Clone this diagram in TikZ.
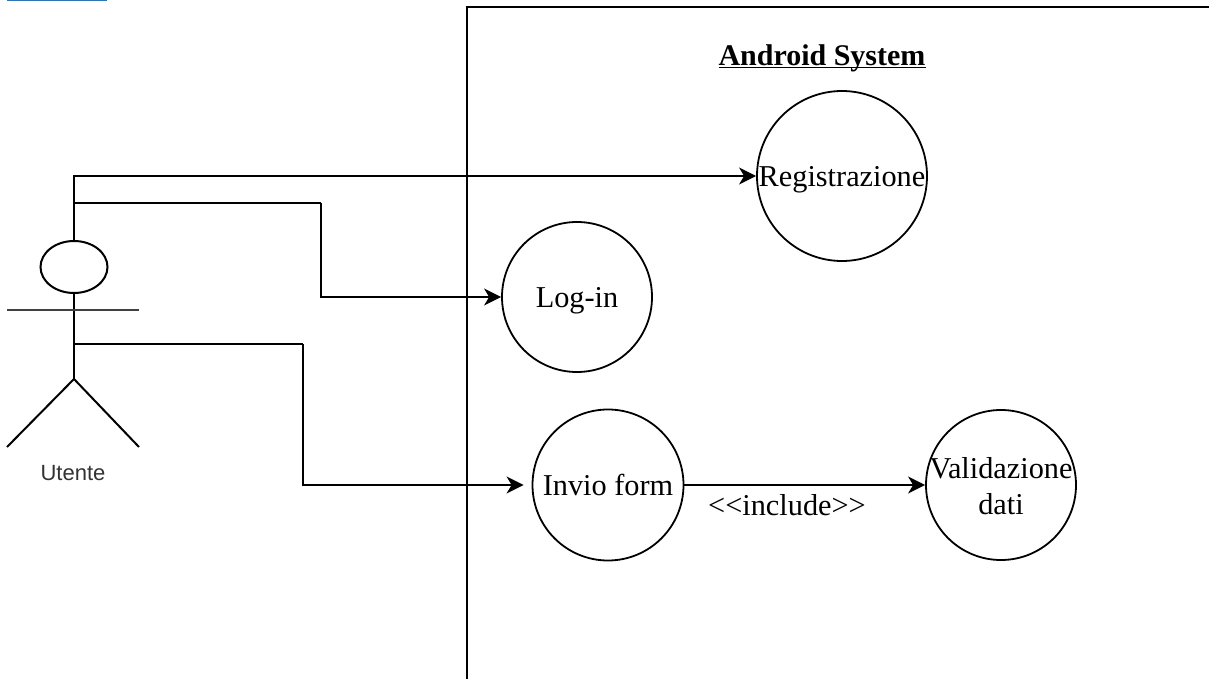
\documentclass[tikz,border=0pt]{standalone}
\usepackage{fontspec}
\setmainfont{Liberation Serif}
\newfontfamily\actorfont{Liberation Sans}
\usetikzlibrary{arrows.meta,shapes.geometric}
\tikzset{
  ln/.style={draw=black,line width=2pt},
  usecase/.style={ln,line width=1.8pt,circle,inner sep=0pt,align=center,font=\fontsize{30.3}{36}\selectfont},
  conn/.style={ln,-{Stealth[length=17pt,width=17pt,inset=5pt]}},
  lbl/.style={inner sep=0pt,font=\fontsize{30.3}{36}\selectfont},
}
\begin{document}
\begin{tikzpicture}[x=1pt,y=-1pt]
\useasboundingbox (0,0) rectangle (1209,679);
\fill[fill=white] (0,0) rectangle (1209,679);
% top-left blue bar
\fill[fill={rgb,255:red,46;green,117;blue,182}] (7,0) rectangle (107,1.2);
% system boundary
\coordinate (sysBL) at (467,679);
\coordinate (sysTL) at (467,7);
\coordinate (sysTR) at (1209,7);
\draw[ln] (sysBL) -- (sysTL) -- (sysTR);
\node[lbl,font=\fontsize{30}{36}\selectfont\bfseries] (title) at (822,66.5) {\underline{\smash{Android System}}};
% use cases
\node[usecase,minimum size=170pt,text depth=0pt] (reg) at (842,176) {Registrazione};
\node[usecase,minimum size=150pt,text depth=0pt] (login) at (577,297) {Log-in};
\node[usecase,minimum size=151pt] (invio) at (608,485) {Invio form};
\node[usecase,minimum size=150pt] (valid) at (1001,485) {};
\node[lbl,align=center] (validtext) at (1001,486) {Validazione\\dati};
% actor
\node[ln,ellipse,inner sep=0pt,minimum width=67pt,minimum height=52pt] (head) at (74,267) {};
\coordinate (hip) at (74,379);
\coordinate (armL) at (7,310);
\coordinate (armR) at (139,310);
\coordinate (legL) at (7,447);
\coordinate (legR) at (139,447);
\coordinate (j1) at (74,203);
\coordinate (j2) at (74,344);
\draw[ln] (head.south) -- (hip);
\draw[ln,draw=black!75] (armL) -- (armR);
\draw[ln] (legL) -- (hip) -- (legR);
\node[inner sep=0pt,font=\actorfont\fontsize{22}{25}\selectfont,text=black!80] (utente) at (73,473) {Utente};
% connectors
\draw[conn] (head.north) |- (reg.west);
\draw[ln] (j1) -- (321,203) coordinate (c1);
\draw[conn] (c1) |- (login.west);
\draw[ln] (j2) -- (303,344) coordinate (c2);
\draw[conn,shorten >=8pt] (c2) |- (invio.west);
\draw[conn] (invio.east) -- (valid.west);
\node[lbl] (inc) at (787,505) {<{}<{}include>{}>};
\end{tikzpicture}
\end{document}
